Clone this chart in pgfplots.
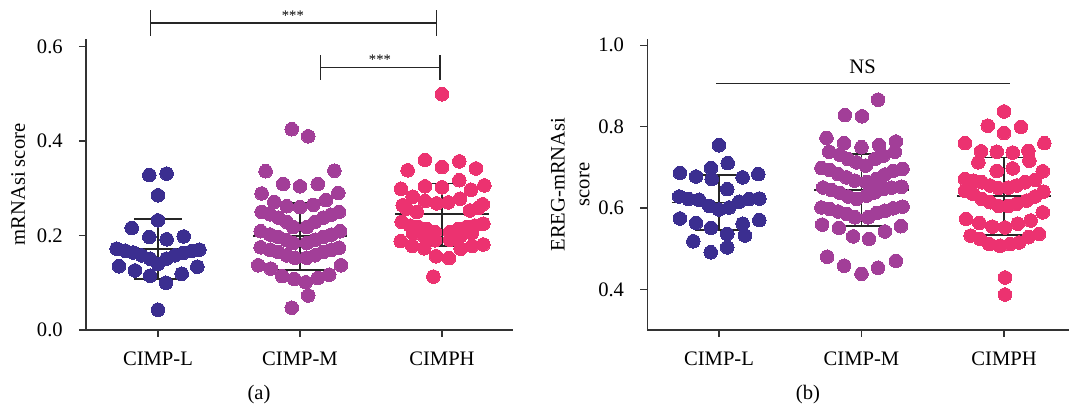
\documentclass[border=0pt]{standalone}
\usepackage{fontspec}
\setmainfont{Liberation Serif}
\usepackage{pgfplots}
\pgfplotsset{compat=1.18}

\definecolor{cL}{RGB}{59,46,144}
\definecolor{cM}{RGB}{162,62,152}
\definecolor{cH}{RGB}{236,50,112}

\pgfplotsset{
  swarm/.style={
    scale only axis,
    height=145.5pt,
    axis lines=left,
    axis line style={-, draw=black!80, line width=0.6pt},
    tick style={draw=black!80, line width=0.6pt},
    tick align=outside,
    major tick length=3.5pt,
    xtick={0,1,2},
    xticklabels={CIMP-L,CIMP-M,CIMPH},
    xticklabel style={yshift=-4pt},
    yticklabel style={xshift=-4.5pt},
    /pgf/number format/assume math mode=true,
    /pgf/number format/fixed,
    /pgf/number format/fixed zerofill,
    /pgf/number format/precision=1,
    clip=false,
  },
  dots/.style={only marks, mark=*, color=#1, mark size=3.4pt, mark options={line width=0pt}},
  sdline/.style={draw=black!85, line width=0.8pt, unbounded coords=jump, mark=none},
}

\begin{document}
\fontsize{10.3}{12.4}\selectfont
\begin{tikzpicture}
\useasboundingbox (-43pt,-40.5pt) rectangle (491.5pt,165pt);

% ---- panel (a)
\begin{axis}[swarm, at={(0,0)}, anchor=south west,
  width=213.5pt, xmin=-0.507, xmax=2.5,
  ymin=0, ymax=0.616, ytick={0,0.2,0.4,0.6},
  ylabel={mRNAsi score},
  ylabel style={at={(axis description cs:-0.159,0.5)}, anchor=center}]
\addplot[dots=cL] coordinates {
 (-0.061,0.328) (0.061,0.331) (0,0.285) (0,0.232) (-0.185,0.216) (-0.061,0.197) (0.061,0.192) (0.181,0.198)
 (-0.291,0.172) (-0.232,0.168) (-0.174,0.164) (-0.115,0.158) (-0.056,0.151) (0,0.140) (0.061,0.151)
 (0.120,0.158) (0.178,0.163) (0.237,0.167) (0.291,0.170)
 (-0.275,0.135) (-0.162,0.126) (-0.056,0.115) (0.056,0.100) (0.167,0.119) (0.277,0.134) (0,0.043)
};
\addplot[dots=cM] coordinates {
 (0.942,0.425) (1.058,0.410) (0.758,0.336) (1.242,0.337) (0.882,0.309) (1,0.304) (1.125,0.309)
 (0.730,0.289) (1.270,0.290) (0.819,0.271) (0.906,0.262) (1,0.260) (1.094,0.265) (1.183,0.275)
 (0.730,0.250) (0.789,0.245) (0.847,0.238) (0.906,0.229) (0.953,0.218) (1.047,0.218) (1.106,0.229)
 (1.164,0.238) (1.218,0.244) (1.275,0.250)
 (0.723,0.209) (0.789,0.202) (0.847,0.197) (0.906,0.190) (0.953,0.184) (1.047,0.184) (1.106,0.191)
 (1.164,0.197) (1.223,0.202) (1.282,0.209)
 (0.723,0.175) (0.789,0.170) (0.847,0.165) (0.906,0.158) (0.965,0.153) (1.047,0.153) (1.106,0.158)
 (1.164,0.165) (1.223,0.170) (1.275,0.174)
 (0.706,0.137) (0.794,0.130) (0.875,0.114) (0.960,0.108) (1.040,0.101) (1.125,0.110) (1.206,0.117)
 (1.289,0.137) (1.058,0.073) (0.942,0.047)
};
\addplot[dots=cH] coordinates {
 (2,0.499) (1.880,0.360) (2.122,0.357) (1.758,0.338) (2,0.345) (2.239,0.342)
 (1.711,0.299) (1.880,0.304) (2,0.302) (2.122,0.317) (2.204,0.297) (2.298,0.306)
 (1.794,0.282) (1.880,0.273) (1.963,0.268) (2.044,0.270) (2.127,0.278) (1.723,0.264) (2.287,0.266)
 (1.751,0.257) (1.822,0.250) (2.197,0.253) (2.256,0.258)
 (1.716,0.229) (1.775,0.221) (1.833,0.218) (1.892,0.214) (1.951,0.207) (2.056,0.207) (2.115,0.214)
 (2.174,0.218) (2.232,0.221) (2.291,0.225)
 (1.798,0.204) (1.880,0.197) (1.951,0.190) (2.056,0.191) (2.127,0.198) (2.209,0.205)
 (1.709,0.188) (1.791,0.178) (1.875,0.173) (1.958,0.156) (2.049,0.152) (2.132,0.172) (2.213,0.178)
 (2.291,0.181) (1.939,0.113)
};
\addplot[sdline] coordinates {(-0.33,0.172) (0.33,0.172) (nan,nan) (-0.168,0.235) (0.168,0.235) (nan,nan)
 (-0.168,0.108) (0.168,0.108) (nan,nan) (0,0.108) (0,0.235)};
\addplot[sdline] coordinates {(0.67,0.199) (1.33,0.199) (nan,nan) (0.832,0.269) (1.168,0.269) (nan,nan)
 (0.832,0.127) (1.168,0.127) (nan,nan) (1,0.127) (1,0.269)};
\addplot[sdline] coordinates {(1.67,0.245) (2.33,0.245) (nan,nan) (1.832,0.310) (2.168,0.310) (nan,nan)
 (1.832,0.1775) (2.168,0.1775) (nan,nan) (2,0.1775) (2,0.310)};
% significance bars
\draw[black!85, line width=0.6pt] (axis cs:-0.05,0.677) -- (axis cs:-0.05,0.623)
  (axis cs:-0.05,0.65) -- (axis cs:1.96,0.65)
  (axis cs:1.96,0.677) -- (axis cs:1.96,0.623);
\node[font=\fontsize{7.3}{8}\selectfont] at (axis cs:0.95,0.665) {***};
\draw[black!85, line width=0.6pt] (axis cs:1.146,0.582) -- (axis cs:1.146,0.529)
  (axis cs:1.146,0.555) -- (axis cs:1.986,0.555)
  (axis cs:1.986,0.582) -- (axis cs:1.986,0.529);
\node[font=\fontsize{7.3}{8}\selectfont] at (axis cs:1.563,0.573) {***};
\node at (axis description cs:0.405,-0.223) {(a)};
\end{axis}

% ---- panel (b)
\begin{axis}[swarm, at={(280.65pt,0)}, anchor=south west,
  width=210.85pt, xmin=-0.503, xmax=2.456,
  ymin=0.3, ymax=1.015, ytick={0.4,0.6,0.8,1.0},
  ylabel={EREG-mRNAsi\\score},
  ylabel style={at={(axis description cs:-0.1825,0.5)}, anchor=center, align=center}]
\addplot[dots=cL] coordinates {
 (0,0.754) (0.061,0.710) (-0.056,0.698) (-0.274,0.686) (-0.161,0.677) (-0.051,0.671) (0.166,0.675)
 (0.276,0.683) (0.058,0.646)
 (-0.279,0.628) (-0.215,0.622) (-0.140,0.620) (-0.068,0.605) (0,0.596) (0.072,0.601) (0.142,0.615)
 (0.213,0.622) (0.283,0.623)
 (-0.274,0.574) (-0.161,0.563) (-0.056,0.551) (0.058,0.536) (0.166,0.561) (0.283,0.570) (0.182,0.532)
 (-0.180,0.518) (-0.058,0.491) (0.058,0.503)
};
\addplot[dots=cM] coordinates {
 (1.116,0.866) (0.883,0.828) (1.004,0.825) (0.754,0.772) (1.241,0.763) (0.878,0.759) (1,0.749)
 (1.124,0.754) (0.773,0.738) (1.234,0.738)
 (0.848,0.731) (0.906,0.720) (0.965,0.712) (1.030,0.704) (1.093,0.720) (1.152,0.728)
 (0.719,0.698) (0.778,0.693) (0.836,0.683) (0.895,0.675) (0.953,0.667) (1.035,0.663) (1.105,0.671)
 (1.164,0.682) (1.222,0.691) (1.288,0.696)
 (0.731,0.650) (0.789,0.644) (0.848,0.637) (0.906,0.628) (0.965,0.622) (1.035,0.630) (1.093,0.638)
 (1.152,0.646) (1.211,0.650) (1.281,0.652)
 (0.719,0.601) (0.778,0.597) (0.836,0.591) (0.895,0.585) (0.953,0.577) (1.047,0.577) (1.105,0.587)
 (1.164,0.593) (1.222,0.599) (1.288,0.603)
 (0.724,0.559) (0.841,0.551) (0.941,0.530) (1.053,0.524) (1.164,0.542) (1.276,0.555)
 (0.759,0.480) (0.878,0.458) (1,0.438) (1.116,0.453) (1.241,0.470)
};
\addplot[dots=cH] coordinates {
 (2,0.837) (1.886,0.802) (2.119,0.799) (2,0.784) (1.726,0.759) (2.283,0.759) (1.839,0.739)
 (1.949,0.738) (2.061,0.736) (2.171,0.740) (1.820,0.712) (2.178,0.716) (1.949,0.691) (2.061,0.697)
 (2.272,0.690)
 (1.726,0.671) (1.785,0.667) (1.844,0.663) (1.902,0.655) (1.960,0.649) (2.030,0.650) (2.089,0.655)
 (2.147,0.663) (2.218,0.669)
 (1.726,0.642) (1.785,0.634) (1.844,0.622) (1.902,0.614) (1.960,0.605) (2.030,0.605) (2.089,0.610)
 (2.159,0.618) (2.218,0.628) (2.276,0.640)
 (2.272,0.589)
 (1.733,0.573) (1.827,0.563) (1.918,0.554) (2.007,0.552) (2.096,0.561) (2.187,0.569)
 (1.766,0.532) (1.832,0.524) (1.897,0.511) (1.972,0.507) (2.042,0.511) (2.105,0.515) (2.171,0.528)
 (2.246,0.536)
 (2.007,0.429) (2.007,0.387)
};
\addplot[sdline] coordinates {(-0.33,0.613) (0.33,0.613) (nan,nan) (-0.168,0.681) (0.168,0.681) (nan,nan)
 (-0.168,0.545) (0.168,0.545) (nan,nan) (0,0.545) (0,0.681)};
\addplot[sdline] coordinates {(0.67,0.644) (1.33,0.644) (nan,nan) (0.832,0.732) (1.168,0.732) (nan,nan)
 (0.832,0.556) (1.168,0.556) (nan,nan) (1,0.556) (1,0.732)};
\addplot[sdline] coordinates {(1.67,0.629) (2.33,0.629) (nan,nan) (1.832,0.724) (2.168,0.724) (nan,nan)
 (1.832,0.534) (2.168,0.534) (nan,nan) (2,0.534) (2,0.724)};
\draw[black!85, line width=0.6pt] (axis cs:-0.02,0.9065) -- (axis cs:2.04,0.9065);
\node at (axis cs:1.008,0.9465) {NS};
\node at (axis description cs:0.381,-0.223) {(b)};
\end{axis}
\end{tikzpicture}
\end{document}
